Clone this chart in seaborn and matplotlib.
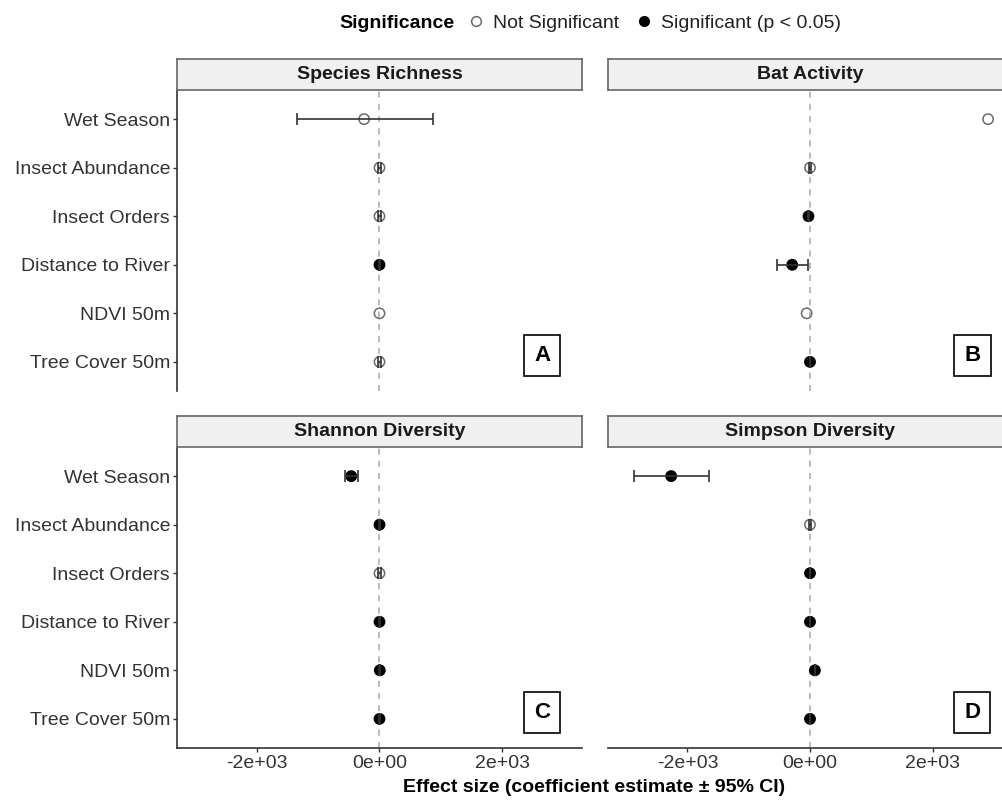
import numpy as np
import pandas as pd
import matplotlib
matplotlib.use("Agg")
import matplotlib.pyplot as plt
from matplotlib.lines import Line2D
import seaborn as sns

# ---------------- data ----------------
terms = ["Wet Season", "Insect Abundance", "Insect Orders",
         "Distance to River", "NDVI 50m", "Tree Cover 50m"]
panels = ["Species Richness", "Bat Activity", "Shannon Diversity", "Simpson Diversity"]
panel_tags = ["A", "B", "C", "D"]

rich_est = [-250, 0, 0, 0, 0, 0]
rich_lo = [-1350, -20, -20, -5, np.nan, -20]
rich_hi = [865, 20, 20, 5, np.nan, 20]
rich_sig = [False, False, False, True, False, False]

bat_est = [2905, 0, -25, -290, -55, 0]
bat_lo = [np.nan, -20, -30, -540, np.nan, -5]
bat_hi = [np.nan, 20, -20, -30, np.nan, 5]
bat_sig = [False, False, True, True, False, True]

shan_est = [-460, 0, 0, 0, 5, 0]
shan_lo = [-565, -5, -20, -5, 0, -5]
shan_hi = [-345, 5, 20, 5, 10, 5]
shan_sig = [True, True, False, True, True, True]

simp_est = [-2265, 0, 0, 0, 80, 0]
simp_lo = [-2875, -20, -5, -5, 75, -5]
simp_hi = [-1655, 20, 5, 5, 85, 5]
simp_sig = [True, False, True, True, True, True]

x_ticks = [-2000, 0, 2000]
x_tick_labels = ["-2e+03", "0e+00", "2e+03"]
sig_labels = ["Not Significant", "Significant (p < 0.05)"]

est_all = [rich_est, bat_est, shan_est, simp_est]
lo_all = [rich_lo, bat_lo, shan_lo, simp_lo]
hi_all = [rich_hi, bat_hi, shan_hi, simp_hi]
sig_all = [rich_sig, bat_sig, shan_sig, simp_sig]

rows = []
for p, e, l, h, s in zip(panels, est_all, lo_all, hi_all, sig_all):
    for t, ei, li, hi_, si in zip(terms, e, l, h, s):
        rows.append(dict(panel=p, term=t, estimate=ei, lo=li, hi=hi_,
                         sig=sig_labels[1] if si else sig_labels[0]))
df = pd.DataFrame(rows)

# ---------------- style ----------------
sns.set_theme(style="white")
plt.rcParams["font.family"] = ["Liberation Sans", "DejaVu Sans"]

W, H = 1003, 801
fig = plt.figure(figsize=(W / 100, H / 100), dpi=100)


def rect(x0, y0, x1, y1):
    return [x0 / W, 1 - y1 / H, (x1 - x0) / W, (y1 - y0) / H]


panel_px = [(177, 90, 582, 391), (608, 90, 1012, 391),
            (177, 447, 582, 748), (608, 447, 1012, 748)]
strip_h = 31
open_col = "#6b6b6b"
axis_col = "#333333"
palette = {sig_labels[0]: open_col, sig_labels[1]: "black"}

for i, (pname, tag, (x0, y0, x1, y1)) in enumerate(zip(panels, panel_tags, panel_px)):
    ax = fig.add_axes(rect(x0, y0, x1, y1))
    sub = df[df.panel == pname].reset_index(drop=True)
    ax.axvline(0, color="#a8a8a8", linestyle=(0, (4, 4)), linewidth=1.1, zorder=0)
    sns.scatterplot(data=sub, x="estimate", y="term", hue="sig", palette=palette,
                    s=55, linewidth=1.1, legend=False, ax=ax, zorder=2)
    coll = ax.collections[-1]
    is_sig = (sub["sig"] == sig_labels[1]).values
    fc = np.array([[0, 0, 0, 1] if s_ else [1, 1, 1, 0] for s_ in is_sig])
    ec = np.array([[0, 0, 0, 1] if s_ else list(matplotlib.colors.to_rgba(open_col)) for s_ in is_sig])
    coll.set_facecolors(fc)
    coll.set_edgecolors(ec)
    ci = sub.dropna(subset=["lo", "hi"])
    ax.errorbar(x=ci["estimate"], y=ci["term"],
                xerr=[ci["estimate"] - ci["lo"], ci["hi"] - ci["estimate"]],
                fmt="none", ecolor=axis_col, elinewidth=1.2, capsize=4, capthick=1.2,
                zorder=3)
    ax.set_xlim(-3295, 3295)
    ax.set_ylim(5.6, -0.6)
    ax.set_xticks(x_ticks)
    ax.set_xticklabels(x_tick_labels)
    ax.set_xlabel("")
    ax.set_ylabel("")
    for sp in ["top", "right"]:
        ax.spines[sp].set_visible(False)
    left = i in (0, 2)
    bottom = i in (2, 3)
    ax.spines["left"].set_visible(left)
    ax.spines["bottom"].set_visible(bottom)
    for sp in ["left", "bottom"]:
        ax.spines[sp].set_color(axis_col)
        ax.spines[sp].set_linewidth(1.2)
    ax.tick_params(axis="y", left=left, labelleft=left, length=3, width=1,
                   color=axis_col, labelsize=14, labelcolor="#333333", pad=2)
    ax.tick_params(axis="x", bottom=bottom, labelbottom=bottom, length=3, width=1,
                   color=axis_col, labelsize=14, labelcolor="#333333", pad=2)
    ax.set_facecolor("white")
    ax.text(2650, 4.87, tag, ha="center", va="center", fontsize=16, fontweight="bold",
            color="black",
            bbox=dict(boxstyle="square,pad=0.45", fc="white", ec="black", lw=1.2))

    # strip
    sax = fig.add_axes(rect(x0, y0 - strip_h, x1, y0))
    sax.set_facecolor("#f0f0f0")
    sax.set_xticks([])
    sax.set_yticks([])
    for sp in sax.spines.values():
        sp.set_visible(True)
        sp.set_color("#666666")
        sp.set_linewidth(1.2)
    sax.text(0.5, 0.5, pname, transform=sax.transAxes, ha="center", va="center",
             fontsize=14, fontweight="bold", color="#1a1a1a")

fig.text(594.5 / W, 1 - 788 / H, "Effect size (coefficient estimate \u00b1 95% CI)",
         ha="center", va="center", fontsize=14, fontweight="bold", color="black")

# legend
fig.text(339 / W, 1 - 23 / H, "Significance", ha="left", va="center",
         fontsize=14, fontweight="bold", color="black")
handles = [Line2D([], [], marker="o", linestyle="none", markersize=7,
                  markerfacecolor="none", markeredgecolor=open_col, markeredgewidth=1.1),
           Line2D([], [], marker="o", linestyle="none", markersize=7,
                  markerfacecolor="black", markeredgecolor="black")]
fig.legend(handles, sig_labels, ncol=2, loc="center left",
           bbox_to_anchor=(466 / W, 1 - 23 / H), frameon=False, fontsize=14,
           handlelength=1.0, handletextpad=0.4, columnspacing=0.75,
           borderpad=0, borderaxespad=0, labelcolor="#222222")

fig.savefig("out.png", dpi=100)
